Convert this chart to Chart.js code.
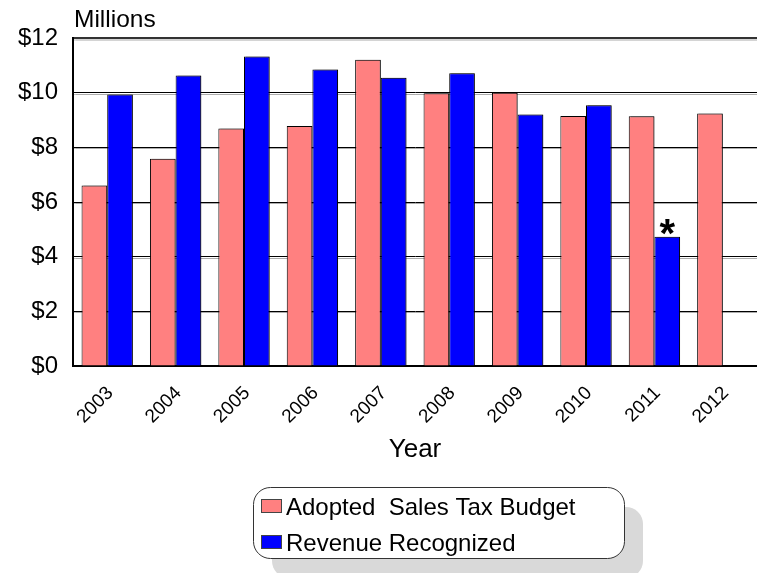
<!DOCTYPE html>
<html>
<head>
<meta charset="utf-8">
<script src="https://cdn.jsdelivr.net/npm/chart.js@4/dist/chart.umd.min.js"></script>
<style>
  html, body { margin: 0; padding: 0; background: #fff; }
  #wrap { width: 757px; height: 573px; position: relative; }
</style>
</head>
<body>
<div id="wrap"><canvas id="c" width="757" height="573"></canvas></div>
<script>
// Sales tax: adopted budget vs. revenue recognized, in $ millions
const years = ['2003', '2004', '2005', '2006', '2007', '2008', '2009', '2010', '2011', '2012'];
const adoptedBudget = [6.6, 7.58, 8.69, 8.78, 11.2, 9.98, 10.0, 9.15, 9.14, 9.24];
const revenueRecognized = [9.93, 10.63, 11.32, 10.85, 10.55, 10.71, 9.2, 9.54, 4.73, null];
const yTickValues = [0, 2, 4, 6, 8, 10, 12];
const seriesNames = ['Adopted  Sales Tax Budget', 'Revenue Recognized'];
const seriesColors = ['#FF8080', '#0000FF'];
const footnoteMark = { series: 1, index: 8, text: '*' };

const FONT = '"Liberation Sans", Arial, sans-serif';

// drop shadow under the bars
const barShadow = {
  id: 'barShadow',
  beforeDatasetsDraw(chart) {
    const ctx = chart.ctx;
    ctx.save();
    ctx.shadowColor = 'rgba(0,0,0,0.4)';
    ctx.shadowOffsetX = 2;
    ctx.shadowOffsetY = 0;
    ctx.shadowBlur = 0;
  },
  afterDatasetsDraw(chart) {
    chart.ctx.restore();
  }
};

// soft grey line under each gridline
const gridShade = {
  id: 'gridShade',
  beforeDatasetsDraw(chart) {
    const ctx = chart.ctx;
    const y = chart.scales.y;
    const area = chart.chartArea;
    ctx.save();
    ctx.strokeStyle = 'rgba(0,0,0,0.25)';
    ctx.lineWidth = 1;
    yTickValues.forEach(v => {
      if (v === 0) return;
      const py = Math.round(y.getPixelForValue(v)) + (v === 12 ? 2 : 1.5);
      ctx.beginPath();
      ctx.moveTo(area.left + 1, py);
      ctx.lineTo(area.right, py);
      ctx.stroke();
    });
    ctx.restore();
  }
};

// units caption, footnote mark and the boxed legend
const decorations = {
  id: 'decorations',
  afterDraw(chart) {
    const ctx = chart.ctx;
    const area = chart.chartArea;
    ctx.save();

    ctx.fillStyle = '#000';
    ctx.font = '24.5px ' + FONT;
    ctx.textAlign = 'left';
    ctx.textBaseline = 'alphabetic';
    ctx.fillText('Millions', area.left + 1, 27);

    const bar = chart.getDatasetMeta(footnoteMark.series).data[footnoteMark.index];
    ctx.font = 'bold 40px ' + FONT;
    ctx.textAlign = 'center';
    ctx.fillText(footnoteMark.text, bar.x, bar.y + 10);

    // legend box with offset shadow
    const bx = 253, by = 487, bw = 371, bh = 71, r = 17;
    ctx.fillStyle = '#d9d9d9';
    ctx.beginPath();
    ctx.roundRect(bx + 19, by + 20, bw, bh, r);
    ctx.fill();
    ctx.fillStyle = '#fff';
    ctx.strokeStyle = '#333';
    ctx.lineWidth = 1;
    ctx.beginPath();
    ctx.roundRect(bx + 0.5, by + 0.5, bw, bh, r);
    ctx.fill();
    ctx.stroke();

    ctx.font = '24px ' + FONT;
    ctx.textAlign = 'left';
    chart.data.datasets.forEach((ds, i) => {
      const sy = 499 + i * 36;
      ctx.fillStyle = ds.backgroundColor;
      ctx.fillRect(261, sy, 21, 14);
      ctx.strokeStyle = '#444';
      ctx.strokeRect(261.5, sy + 0.5, 20, 13);
      ctx.fillStyle = '#000';
      ctx.fillText(ds.label, 286, sy + 16);
    });
    ctx.restore();
  }
};

new Chart(document.getElementById('c'), {
  type: 'bar',
  data: {
    labels: years,
    datasets: [
      { label: seriesNames[0], data: adoptedBudget, backgroundColor: seriesColors[0],
        borderColor: '#000', borderWidth: 1 },
      { label: seriesNames[1], data: revenueRecognized, backgroundColor: seriesColors[1],
        borderColor: '#000', borderWidth: 1 }
    ]
  },
  options: {
    responsive: false,
    animation: false,
    devicePixelRatio: 1,
    layout: { padding: { top: 38, left: 0, right: 0, bottom: 0 } },
    datasets: { bar: { categoryPercentage: 0.75, barPercentage: 1.0 } },
    plugins: {
      legend: { display: false },
      tooltip: { enabled: false }
    },
    scales: {
      x: {
        grid: { display: false },
        border: { color: '#000', width: 2 },
        ticks: {
          color: '#000',
          font: { family: FONT, size: 19 },
          minRotation: 45,
          maxRotation: 45,
          padding: 8,
          labelOffset: 3
        },
        title: {
          display: true,
          text: 'Year',
          color: '#000',
          font: { family: FONT, size: 26 },
          padding: { top: 0, bottom: 108 }
        },
        afterFit(scale) { scale.height = 207; }
      },
      y: {
        min: 0,
        max: 12,
        afterBuildTicks(scale) { scale.ticks = yTickValues.map(v => ({ value: v })); },
        ticks: {
          color: '#000',
          font: { family: FONT, size: 24 },
          padding: 15,
          callback: v => '$' + v
        },
        grid: {
          drawTicks: false,
          color: ctx => (ctx.tick && ctx.tick.value === 12 ? '#333' : '#000'),
          lineWidth: ctx => (ctx.tick && ctx.tick.value === 12 ? 2 : 1)
        },
        border: { color: '#000', width: 2 },
        afterFit(scale) { scale.width = 73; }
      }
    }
  },
  plugins: [barShadow, gridShade, decorations]
});
</script>
</body>
</html>
